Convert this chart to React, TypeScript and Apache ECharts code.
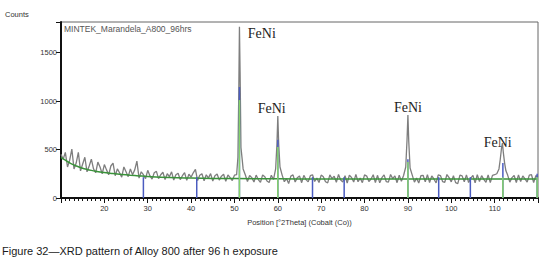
import React, { useEffect, useRef } from "react";
import * as echarts from "echarts";

const xTicks = [20, 30, 40, 50, 60, 70, 80, 90, 100, 110];
const yTicks = [0, 500, 1000, 1500];

// measured scan (angle °2θ, counts)
const scan: [number, number][] = [
  [10.0, 450], [10.5, 400], [11.0, 470], [11.5, 320], [12.0, 390], [12.5, 505], [13.0, 300], [13.5, 360],
  [14.0, 470], [14.5, 280], [15.0, 350], [15.5, 420], [16.0, 270], [16.5, 330], [17.0, 400], [17.5, 300],
  [18.0, 260], [18.5, 370], [19.0, 320], [19.5, 250], [20.0, 345], [20.5, 290], [21.0, 240], [21.5, 330],
  [22.0, 360], [22.5, 230], [23.0, 300], [23.5, 260], [24.0, 215], [24.5, 320], [25.0, 270], [25.5, 220],
  [26.0, 300], [26.5, 240], [27.0, 290], [27.5, 380], [28.0, 205], [28.5, 270], [29.0, 240], [29.5, 200],
  [30.0, 285], [30.5, 230], [31.0, 195], [31.5, 260], [32.0, 275], [32.5, 200], [33.0, 240], [33.5, 265],
  [34.0, 190], [34.5, 250], [35.0, 220], [35.5, 270], [36.0, 185], [36.5, 240], [37.0, 255], [37.5, 190],
  [38.0, 230], [38.5, 262], [39.0, 182], [39.5, 245], [40.0, 215], [40.5, 260], [41.0, 295], [41.5, 180],
  [42.0, 235], [42.5, 250], [43.0, 178], [43.5, 240], [44.0, 205], [44.5, 252], [45.0, 175], [45.5, 230],
  [46.0, 248], [46.5, 185], [47.0, 225], [47.5, 245], [48.0, 172], [48.5, 238], [49.0, 210], [49.5, 180],
  [50.0, 235], [50.5, 240], [50.8, 420], [51.0, 1100], [51.15, 1765], [51.3, 1300], [51.5, 520], [51.8, 390],
  [52.0, 300], [52.5, 240], [53.0, 170], [53.5, 232], [54.0, 210], [54.5, 165], [55.0, 236], [55.5, 190],
  [56.0, 162], [56.5, 238], [57.0, 220], [57.5, 175], [58.0, 160], [58.5, 235], [59.0, 190], [59.5, 300],
  [59.8, 560], [60.0, 845], [60.2, 560], [60.5, 320], [61.0, 236], [61.5, 168], [62.0, 200], [62.5, 150],
  [63.0, 226], [63.5, 238], [64.0, 165], [64.5, 210], [65.0, 228], [65.5, 158], [66.0, 234], [66.5, 190],
  [67.0, 166], [67.5, 230], [68.0, 240], [68.5, 170], [69.0, 205], [69.5, 160], [70.0, 236], [70.5, 218],
  [71.0, 168], [71.5, 156], [72.0, 238], [72.5, 200], [73.0, 225], [73.5, 162], [74.0, 242], [74.5, 186],
  [75.0, 166], [75.5, 230], [76.0, 155], [76.5, 236], [77.0, 212], [77.5, 164], [78.0, 244], [78.5, 168],
  [79.0, 205], [79.5, 158], [80.0, 238], [80.5, 226], [81.0, 170], [81.5, 196], [82.0, 240], [82.5, 160],
  [83.0, 234], [83.5, 156], [84.0, 210], [84.5, 238], [85.0, 170], [85.5, 164], [86.0, 242], [86.5, 200],
  [87.0, 228], [87.5, 158], [88.0, 236], [88.5, 172], [89.0, 232], [89.5, 320], [89.8, 600], [90.0, 855],
  [90.2, 580], [90.5, 310], [91.0, 236], [91.5, 164], [92.0, 205], [92.5, 155], [93.0, 230], [93.5, 234],
  [94.0, 168], [94.5, 240], [95.0, 160], [95.5, 228], [96.0, 196], [96.5, 156], [97.0, 238], [97.5, 232],
  [98.0, 170], [98.5, 162], [99.0, 242], [99.5, 210], [100.0, 166], [100.5, 230], [101.0, 158], [101.5, 148],
  [102.0, 236], [102.5, 228], [103.0, 168], [103.5, 238], [104.0, 160], [104.5, 205], [105.0, 232], [105.5, 156],
  [106.0, 240], [106.5, 170], [107.0, 230], [107.5, 192], [108.0, 162], [108.5, 238], [109.0, 158], [109.5, 234],
  [110.0, 240], [110.5, 250], [111.0, 300], [111.3, 400], [111.6, 520], [111.8, 567], [112.0, 470], [112.3, 360],
  [112.6, 280], [113.0, 236], [113.5, 164], [114.0, 210], [114.5, 232], [115.0, 160], [115.5, 238], [116.0, 170],
  [116.5, 228], [117.0, 196], [117.5, 164], [118.0, 236], [118.5, 240], [119.0, 158], [119.5, 230], [120.0, 220],
];

// fitted background profile
const background: [number, number][] = [
  [10, 420], [11, 390], [12, 362], [13, 340], [14, 322], [15, 306], [16, 295], [17, 285], [18, 276],
  [19, 268], [20, 262], [22, 252], [24, 243], [26, 235], [28, 228], [30, 222], [35, 212], [40, 206],
  [45, 202], [50, 200], [60, 198], [70, 197], [80, 197], [90, 197], [100, 196], [110, 196], [120, 196],
];

// reference pattern sticks (position, relative height in counts)
const blueSticks: [number, number][] = [
  [29.0, 215], [41.3, 215], [51.15, 1145], [60.0, 600], [68.0, 215], [75.3, 215], [90.0, 400],
  [97.1, 215], [104.4, 215], [111.9, 360], [119.8, 250],
];
const greenSticks: [number, number][] = [
  [51.15, 1010], [60.0, 525], [90.0, 370], [111.9, 215], [119.8, 215],
];

const peakLabels: { name: string; coord: [number, number] }[] = [
  { name: "FeNi", coord: [56.3, 1700] },
  { name: "FeNi", coord: [58.6, 928] },
  { name: "FeNi", coord: [90.0, 938] },
  { name: "FeNi", coord: [110.7, 577] },
];

const sampleName = "MINTEK_Marandela_A800_96hrs";
const xTitle = "Position [°2Theta] (Cobalt (Co))";
const yTitle = "Counts";
const caption = "Figure 32\u2014XRD pattern of Alloy 800 after 96 h exposure";

export default function App() {
  const ref = useRef<HTMLDivElement>(null);
  useEffect(() => {
    if (!ref.current) return;
    const chart = echarts.init(ref.current, undefined, { renderer: "svg" });
    const sans = "Liberation Sans, Arial, sans-serif";
    chart.setOption({
      animation: false,
      grid: {
        left: 61, right: 15, top: 22, bottom: 71,
        show: true, borderColor: "#666", borderWidth: 1, backgroundColor: "transparent",
      },
      xAxis: {
        type: "value", min: 10, max: 120, interval: 10,
        axisLine: { show: true, onZero: false, lineStyle: { color: "#111", width: 2 } },
        axisTick: { show: true, length: 5, lineStyle: { color: "#111", width: 1 } },
        minorTick: { show: true, splitNumber: 10, length: 3, lineStyle: { color: "#111", width: 1 } },
        splitLine: { show: false },
        axisLabel: {
          margin: 6, fontSize: 7.5, color: "#333", fontFamily: sans,
          formatter: (v: number) => (xTicks.includes(v) ? String(v) : ""),
        },
        name: xTitle, nameLocation: "middle", nameGap: 20,
        nameTextStyle: { fontSize: 7.5, color: "#333", fontFamily: sans },
      },
      yAxis: {
        type: "value", min: 0, max: 1815, interval: 500,
        axisLine: { show: true, lineStyle: { color: "#111", width: 2 } },
        axisTick: { show: true, length: 5, lineStyle: { color: "#111", width: 1 } },
        splitLine: { show: false },
        axisLabel: {
          margin: 4, fontSize: 7.5, color: "#333", fontFamily: sans,
          formatter: (v: number) => (yTicks.includes(v) ? String(v) : ""),
        },
      },
      series: [
        {
          type: "line", data: scan, symbol: "none", z: 2,
          lineStyle: { color: "#7e7e7e", width: 1.3 },
          markPoint: {
            symbol: "circle", symbolSize: 0,
            label: {
              show: true, formatter: "{b}", color: "#222", fontSize: 14,
              fontFamily: "Liberation Serif, Times New Roman, serif", position: "inside",
            },
            data: peakLabels.map((p) => ({ name: p.name, coord: p.coord })),
          },
        },
        {
          type: "line", data: background, symbol: "none", smooth: true, z: 3,
          lineStyle: { color: "#3a923a", width: 1.5 },
        },
        {
          type: "bar", data: blueSticks, barWidth: 1.5, barGap: "-100%", z: 4,
          itemStyle: { color: "#4b5cc0" },
        },
        {
          type: "bar", data: greenSticks, barWidth: 1.5, barGap: "-100%", z: 5,
          itemStyle: { color: "#86d46a" },
        },
      ],
      graphic: [
        {
          type: "text", left: 5, top: 10,
          style: { text: yTitle, fontSize: 7.5, fill: "#333", fontFamily: sans },
        },
        {
          type: "text", left: 64, top: 24,
          style: { text: sampleName, fontSize: 8.5, fill: "#555", fontFamily: sans },
        },
        {
          type: "text", left: 2, top: 245,
          style: { text: caption, fontSize: 11, fill: "#1a1a1a", fontFamily: sans },
        },
      ],
    });
    return () => chart.dispose();
  }, []);
  return (
    <div
      ref={ref}
      style={{ position: "fixed", left: 0, top: 0, width: 553, height: 269, background: "#fff" }}
    />
  );
}
